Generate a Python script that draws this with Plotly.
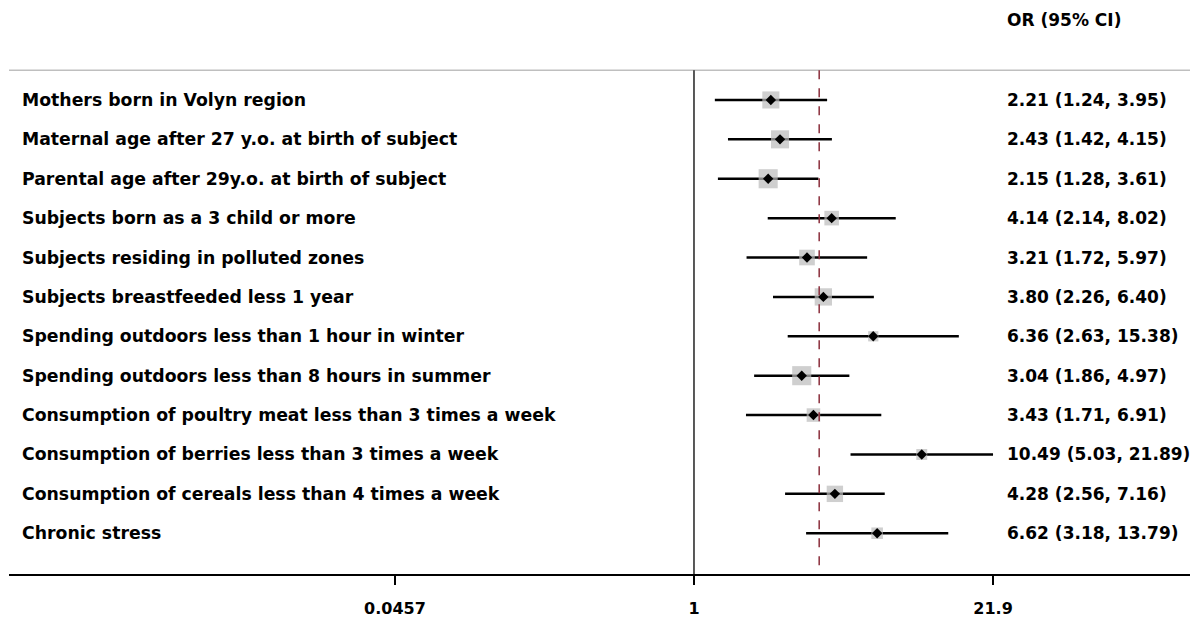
import plotly.graph_objects as go

labels = [
    "Mothers born in Volyn region",
    "Maternal age after 27 y.o. at birth of subject",
    "Parental age after 29y.o. at birth of subject",
    "Subjects born as a 3 child or more",
    "Subjects residing in polluted zones",
    "Subjects breastfeeded less 1 year",
    "Spending outdoors less than 1 hour in winter",
    "Spending outdoors less than 8 hours in summer",
    "Consumption of poultry meat less than 3 times a week",
    "Consumption of berries less than 3 times a week",
    "Consumption of cereals less than 4 times a week",
    "Chronic stress",
]
or_vals = [2.21, 2.43, 2.15, 4.14, 3.21, 3.80, 6.36, 3.04, 3.43, 10.49, 4.28, 6.62]
ci_low = [1.24, 1.42, 1.28, 2.14, 1.72, 2.26, 2.63, 1.86, 1.71, 5.03, 2.56, 3.18]
ci_high = [3.95, 4.15, 3.61, 8.02, 5.97, 6.40, 15.38, 4.97, 6.91, 21.89, 7.16, 13.79]
weights = [10.0, 11.2, 12.5, 7.3, 8.4, 10.3, 3.6, 12.5, 6.3, 4.1, 9.2, 4.6]
overall_or = 3.64
tick_vals = [0.0457, 1, 21.9]
tick_text = ["0.0457", "1", "21.9"]
header = "OR (95% CI)"

FONT = "DejaVu Sans, Arial, sans-serif"
FS_L = 17.3
FS_R = 17.0
rows = list(range(len(labels)))
top_y = -0.754
bot_y = 12.035

fig = go.Figure()

# CI lines
cx, cy = [], []
for i in rows:
    cx += [ci_low[i], ci_high[i], None]
    cy += [i, i, None]
fig.add_trace(go.Scatter(x=cx, y=cy, mode="lines",
                         line=dict(color="black", width=2.5),
                         hoverinfo="skip", showlegend=False))

# weight squares
fig.add_trace(go.Scatter(x=or_vals, y=rows, mode="markers",
                         marker=dict(symbol="square", color="#BBBBBB",
                                     size=[5.4 * w ** 0.5 for w in weights],
                                     line=dict(width=0)),
                         hoverinfo="skip", showlegend=False))
# point estimates
fig.add_trace(go.Scatter(x=or_vals, y=rows, mode="markers",
                         marker=dict(symbol="diamond", color="black", size=8,
                                     line=dict(width=0)),
                         showlegend=False))

shapes = [
    dict(type="line", xref="paper", yref="y", x0=0, x1=1, y0=top_y, y1=top_y,
         line=dict(color="#BFBFBF", width=1.5)),
    dict(type="line", xref="x", yref="y", x0=1, x1=1, y0=top_y, y1=bot_y,
         line=dict(color="#222222", width=1.5)),
    dict(type="line", xref="x", yref="y", x0=overall_or, x1=overall_or,
         y0=top_y, y1=bot_y,
         line=dict(color="#8B2E3C", width=1.5, dash="dash")),
]

annotations = []
for i in rows:
    annotations.append(dict(x=11 / 1181, xref="paper", y=i, yref="y",
                            text="<b>%s</b>" % labels[i], showarrow=False,
                            xanchor="left", yanchor="middle",
                            font=dict(family=FONT, size=FS_L, color="black")))
    annotations.append(dict(x=996 / 1181, xref="paper", y=i, yref="y",
                            text="<b>%.2f (%.2f, %.2f)</b>" % (or_vals[i], ci_low[i], ci_high[i]),
                            showarrow=False, xanchor="left", yanchor="middle",
                            font=dict(family=FONT, size=FS_R, color="black")))
annotations.append(dict(x=996 / 1181, xref="paper", y=-2.035, yref="y",
                        text="<b>%s</b>" % header, showarrow=False,
                        xanchor="left", yanchor="middle",
                        font=dict(family=FONT, size=FS_R, color="black")))

fig.update_layout(
    width=1190, height=618,
    margin=dict(l=9, r=0, t=0, b=38),
    paper_bgcolor="white", plot_bgcolor="white",
    shapes=shapes, annotations=annotations,
    xaxis=dict(type="log", range=[-3.070, 2.223], tickvals=tick_vals,
               ticktext=["<b>%s</b>" % t for t in tick_text],
               ticks="outside", ticklen=9, tickwidth=1.5, tickcolor="black",
               ticklabelstandoff=10,
               showline=True, linecolor="black", linewidth=2,
               showgrid=False, zeroline=False,
               tickfont=dict(family=FONT, size=16, color="black")),
    yaxis=dict(range=[bot_y, -2.538], visible=False, showgrid=False,
               zeroline=False),
)

fig.write_html("out.html", config={"displayModeBar": False},
               post_script="document.body.style.margin='0';document.body.style.overflow='hidden';")
